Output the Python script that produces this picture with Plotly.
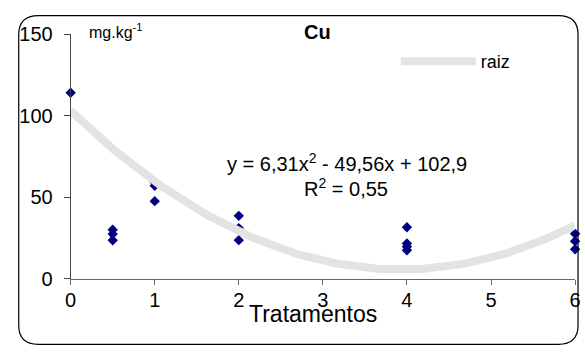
import numpy as np
import plotly.graph_objects as go

# Data
tratamentos = [0, 0.5, 0.5, 0.5, 1, 1, 1, 2, 2, 2, 4, 4, 4, 4, 6, 6, 6]
cu_values = [114, 30, 27.3, 23.5, 59, 57, 47.5, 38.5, 31, 23.6, 31.5, 21.5, 19.5, 17.4, 27.5, 23, 18]

# Trendline coefficients (shown on the chart)
coef_a, coef_b, coef_c = 6.31, -49.56, 102.9
trend_x = np.linspace(0, 6, 121)
trend_y = coef_a * trend_x**2 + coef_b * trend_x + coef_c

x_ticks = [0, 1, 2, 3, 4, 5, 6]
y_ticks = [0, 50, 100, 150]

W, H = 585, 361
def px(x):
    return x / W
def py(y):
    return 1 - y / H

FONT = "Liberation Sans, Arial, sans-serif"

fig = go.Figure()
fig.add_trace(go.Scatter(
    x=tratamentos, y=cu_values, mode="markers",
    marker=dict(symbol="diamond", size=8, color="#000080"),
    showlegend=False, cliponaxis=False,
))
fig.add_trace(go.Scatter(
    x=trend_x, y=trend_y, mode="lines", name="raiz",
    line=dict(color="#e3e3e3", width=8),
    showlegend=True, cliponaxis=False,
))

x0, x1 = 66, 581
y0, y1 = 285, 24.5
fig.update_layout(
    width=W, height=H,
    margin=dict(l=0, r=0, t=0, b=0),
    paper_bgcolor="white", plot_bgcolor="white",
    font=dict(family=FONT, color="black"),
    xaxis=dict(
        domain=[px(x0), px(x1)], range=[0, 6],
        tickvals=x_ticks, ticktext=[str(v) for v in x_ticks],
        showgrid=False, zeroline=False,
        showline=True, linecolor="#666666", linewidth=1,
        ticks="outside", ticklen=5, tickcolor="#666666",
        tickfont=dict(size=20, family=FONT),
        ticklabeloverflow="allow", ticklabelstandoff=-2,
    ),
    yaxis=dict(
        domain=[py(y0), py(y1)], range=[0, 150],
        tickvals=y_ticks, ticktext=[str(v) for v in y_ticks],
        showgrid=False, zeroline=False,
        showline=True, linecolor="#444444", linewidth=1,
        ticks="outside", ticklen=6, tickcolor="#444444",
        tickfont=dict(size=20, family=FONT),
        ticklabelstandoff=7,
    ),
    legend=dict(
        x=px(398), y=py(34), xanchor="left", yanchor="top",
        bgcolor="rgba(0,0,0,0)", font=dict(size=18, family=FONT),
        itemwidth=75,
    ),
    showlegend=True,
)

annotations = [
    dict(text="<b>Cu</b>", x=px(318), y=py(22), size=20),
    dict(text="mg.kg<sup>-1</sup>", x=px(112), y=py(21), size=16),
    dict(text="y = 6,31x<sup>2</sup> - 49,56x + 102,9", x=px(348), y=py(161), size=20),
    dict(text="R<sup>2</sup> = 0,55", x=px(347), y=py(188), size=20),
    dict(text="Tratamentos", x=px(313), y=py(323), size=23),
]
for a in annotations:
    fig.add_annotation(xref="paper", yref="paper", showarrow=False,
                       xanchor="center", yanchor="middle",
                       font=dict(family=FONT, color="black", size=a["size"]),
                       text=a["text"], x=a["x"], y=a["y"])

# Rounded chart border
L, R, T, B, r = 13, 584, 5, 355, 20
path = (f"M {px(L+r)},{py(T)} L {px(R-r)},{py(T)} Q {px(R)},{py(T)} {px(R)},{py(T+r)} "
        f"L {px(R)},{py(B-r)} Q {px(R)},{py(B)} {px(R-r)},{py(B)} "
        f"L {px(L+r)},{py(B)} Q {px(L)},{py(B)} {px(L)},{py(B-r)} "
        f"L {px(L)},{py(T+r)} Q {px(L)},{py(T)} {px(L+r)},{py(T)} Z")
fig.add_shape(type="path", path=path, xref="paper", yref="paper",
              line=dict(color="black", width=1.2), layer="above")

fig.write_html("out.html")
